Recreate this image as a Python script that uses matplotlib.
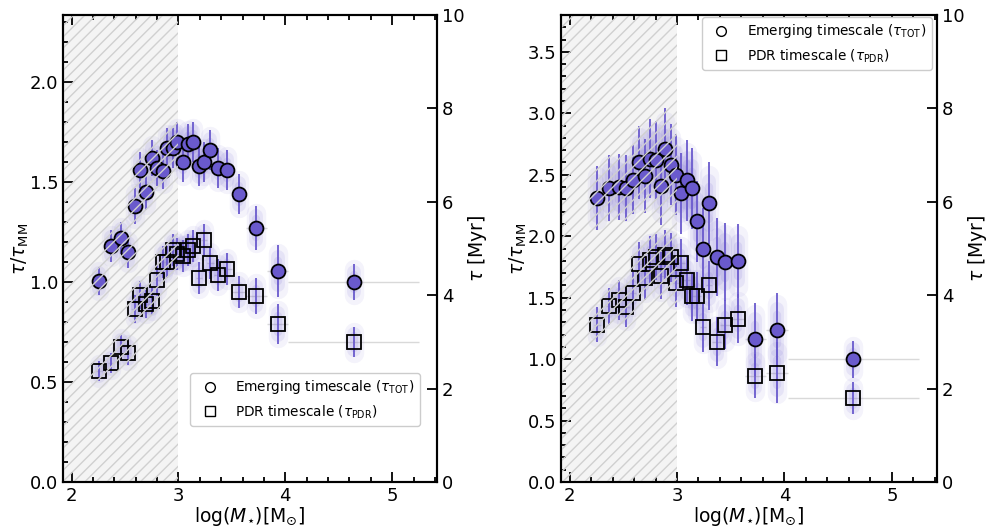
import numpy as np
import matplotlib
matplotlib.use("Agg")
import matplotlib.pyplot as plt
from matplotlib.lines import Line2D
from matplotlib.ticker import AutoMinorLocator, MultipleLocator

# bin centres in log(M*) (shared by both panels)
logm = [2.26, 2.37, 2.46, 2.53, 2.59, 2.645, 2.70, 2.75, 2.80, 2.855, 2.89, 2.945, 2.99,
        3.04, 3.09, 3.14, 3.19, 3.24, 3.30, 3.37, 3.45, 3.565, 3.73, 3.93, 4.64]
logm_err = [0.03, 0.03, 0.03, 0.03, 0.03, 0.03, 0.03, 0.03, 0.03, 0.03, 0.03, 0.03, 0.03,
            0.03, 0.03, 0.03, 0.03, 0.03, 0.03, 0.04, 0.05, 0.06, 0.10, 0.10, 0.61]

# left panel
tot_l = [1.005, 1.18, 1.22, 1.15, 1.38, 1.56, 1.45, 1.62, 1.57, 1.555, 1.67, 1.67, 1.70,
         1.60, 1.69, 1.70, 1.58, 1.60, 1.66, 1.57, 1.56, 1.44, 1.27, 1.055, 1.00]
tot_l_err = [0.07, 0.08, 0.08, 0.08, 0.09, 0.09, 0.09, 0.09, 0.09, 0.09, 0.10, 0.10, 0.10,
             0.10, 0.10, 0.10, 0.10, 0.10, 0.10, 0.10, 0.10, 0.10, 0.11, 0.13, 0.09]
pdr_l = [0.557, 0.593, 0.677, 0.647, 0.865, 0.935, 0.89, 0.905, 1.01, 1.10, 1.10, 1.16, 1.14,
         1.13, 1.16, 1.18, 1.02, 1.21, 1.095, 1.035, 1.065, 0.95, 0.93, 0.79, 0.70]
pdr_l_err = [0.05, 0.05, 0.06, 0.06, 0.07, 0.07, 0.07, 0.07, 0.08, 0.08, 0.08, 0.08, 0.08,
             0.08, 0.08, 0.08, 0.08, 0.08, 0.08, 0.08, 0.08, 0.08, 0.09, 0.10, 0.075]

# right panel
tot_r = [2.31, 2.39, 2.40, 2.39, 2.46, 2.60, 2.49, 2.63, 2.62, 2.41, 2.71, 2.58, 2.50,
         2.35, 2.455, 2.39, 2.12, 1.90, 2.27, 1.83, 1.79, 1.80, 1.16, 1.24, 1.00]
tot_r_err = [0.26, 0.27, 0.27, 0.27, 0.28, 0.30, 0.30, 0.32, 0.32, 0.32, 0.33, 0.33, 0.33,
             0.33, 0.33, 0.33, 0.33, 0.33, 0.33, 0.32, 0.32, 0.30, 0.30, 0.30, 0.15]
pdr_r = [1.28, 1.43, 1.48, 1.42, 1.54, 1.77, 1.66, 1.81, 1.83, 1.68, 1.85, 1.83, 1.62,
         1.78, 1.64, 1.51, 1.51, 1.26, 1.60, 1.14, 1.28, 1.33, 0.86, 0.89, 0.68]
pdr_r_err = [0.14, 0.15, 0.16, 0.16, 0.17, 0.18, 0.18, 0.19, 0.19, 0.19, 0.20, 0.20, 0.20,
             0.20, 0.20, 0.20, 0.20, 0.20, 0.20, 0.20, 0.20, 0.20, 0.18, 0.25, 0.13]

PURPLE = '#6a5acd'
GREY = '#d9d9d9'


def draw_series(ax, x, y, yerr, marker, face):
    x = np.array(x); y = np.array(y); yerr = np.array(yerr)
    ax.errorbar(x, y, xerr=logm_err, fmt='none', ecolor=GREY, elinewidth=1, zorder=1)
    # soft halo around each point
    for frac, lw, a in [(0.7, 14, 0.07), (0.55, 10, 0.10), (0.4, 6, 0.12)]:
        ax.vlines(x, y - frac * yerr, y + frac * yerr, colors=PURPLE, linewidths=lw,
                  alpha=a, capstyle='round', zorder=2)
    ax.vlines(x, y - yerr, y + yerr, colors=PURPLE, linewidths=1.3, zorder=3)
    ax.plot(x, y, linestyle='none', marker=marker, markersize=10,
            markerfacecolor=face, markeredgecolor='black', markeredgewidth=1.3, zorder=4)


def setup(ax, ymax, legend_loc, legend_anchor):
    ax.set_xlim(1.92, 5.42)
    ax.set_ylim(0, ymax)
    ax.axvspan(1.0, 3.0, facecolor='#f4f4f4', edgecolor='none', zorder=0)
    ax.axvspan(1.0, 3.0, facecolor='none', edgecolor='#d0d0d0', hatch='///', lw=0, zorder=5)
    ax.xaxis.set_major_locator(MultipleLocator(1))
    ax.yaxis.set_major_locator(MultipleLocator(0.5))
    ax.xaxis.set_minor_locator(AutoMinorLocator())
    ax.yaxis.set_minor_locator(AutoMinorLocator())
    ax.tick_params(which='both', direction='in', top=True, labelsize=13, width=1.3)
    ax.tick_params(which='major', length=7)
    ax.tick_params(which='minor', length=3.5)
    for s in ax.spines.values():
        s.set_linewidth(1.5)
    ax.set_xlabel(r'log($M_{\star}$)[M$_{\odot}$]', fontsize=13.5, labelpad=0)
    ax.set_ylabel(r'$\tau/\tau_{\rm MM}$', fontsize=13.5, labelpad=-1)

    ax2 = ax.twinx()
    ax2.set_ylim(0, 10)
    ax2.yaxis.set_major_locator(MultipleLocator(2))
    ax2.tick_params(direction='in', labelsize=13, length=7, width=1.3)
    ax2.set_ylabel(r'$\tau$ [Myr]', fontsize=13.5, labelpad=1)
    for s in ax2.spines.values():
        s.set_linewidth(1.5)

    handles = [Line2D([], [], ls='none', marker='o', mfc='white', mec='black', ms=7),
               Line2D([], [], ls='none', marker='s', mfc='white', mec='black', ms=7)]
    labels = [r'Emerging timescale ($\tau_{\rm TOT}$)', r'PDR timescale ($\tau_{\rm PDR}$)']
    ax.legend(handles, labels, loc=legend_loc, bbox_to_anchor=legend_anchor, fontsize=9.8,
              framealpha=1, handletextpad=0.9, borderaxespad=0)


fig = plt.figure(figsize=(9.89, 5.27), dpi=100)
axL = fig.add_axes([0.0637, 0.0854, 0.3782, 0.8861])
axR = fig.add_axes([0.5672, 0.0854, 0.3802, 0.8861])

draw_series(axL, logm, pdr_l, pdr_l_err, 's', 'none')
draw_series(axL, logm, tot_l, tot_l_err, 'o', PURPLE)
draw_series(axR, logm, pdr_r, pdr_r_err, 's', 'none')
draw_series(axR, logm, tot_r, tot_r_err, 'o', PURPLE)

setup(axL, 2.335, 'lower right', (0.955, 0.12))
setup(axR, 3.8, 'upper right', (0.987, 0.996))

fig.savefig('out.png', dpi=100)
